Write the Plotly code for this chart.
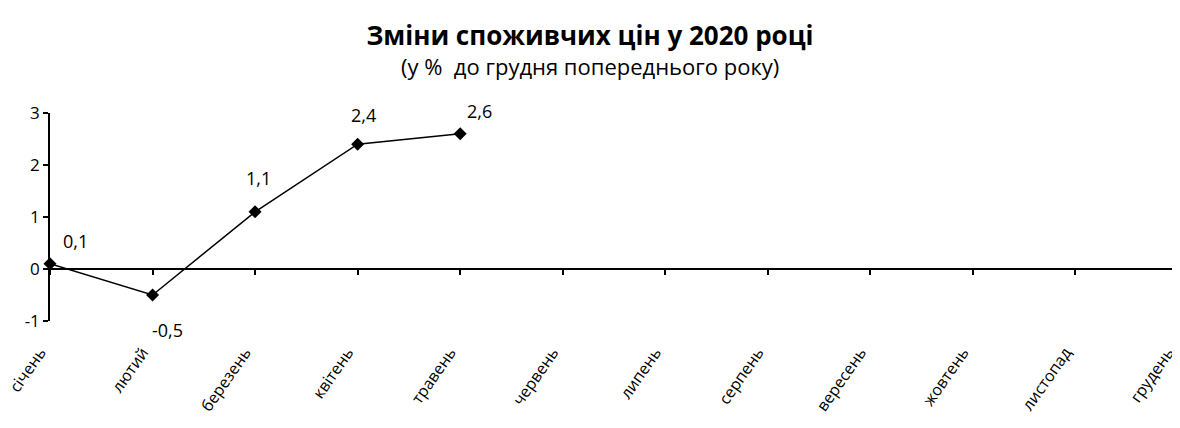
import plotly.graph_objects as go

months = ["січень", "лютий", "березень", "квітень", "травень", "червень",
          "липень", "серпень", "вересень", "жовтень", "листопад", "грудень"]
values = [0.1, -0.5, 1.1, 2.4, 2.6]
y_ticks = [-1, 0, 1, 2, 3]

label_shift = [(25, 23), (15, -35), (3, 34), (6, 29), (19, 23)]

FONT = "Open Sans"
TITLE = "Зміни споживчих цін у 2020 році"
SUBTITLE = "(у %  до грудня попереднього року)"

fig = go.Figure()
padded = values + [None] * (len(months) - len(values))
fig.add_trace(go.Scatter(
    x=months, y=padded, mode="lines+markers",
    line=dict(color="black", width=1.5),
    marker=dict(symbol="diamond", size=10, color="black"),
    hoverinfo="skip", showlegend=False, cliponaxis=False,
))
# helper trace for the zero-line axis
fig.add_trace(go.Scatter(x=months, y=[None] * len(months), xaxis="x2", yaxis="y",
                         showlegend=False, hoverinfo="skip"))

for m, v, (dx, dy) in zip(months, values, label_shift):
    fig.add_annotation(x=m, y=v, text=f"{v:.1f}".replace(".", ","), showarrow=False,
                       xshift=dx, yshift=dy, font=dict(size=18, color="black", family=FONT))

fig.add_annotation(xref="paper", yref="paper", x=(590 - 50) / 1128, y=(321 - 66) / 208,
                   xanchor="center", yanchor="middle", showarrow=False,
                   text=SUBTITLE, font=dict(size=22, color="black", family=FONT))

fig.update_layout(
    width=1172, height=420,
    margin=dict(l=42, r=2, t=105, b=107),
    paper_bgcolor="white", plot_bgcolor="white",
    font=dict(family=FONT, color="black", size=16),
    title=dict(
        text=f"<b>{TITLE}</b>",
        x=(590 - 8) / 1172, xanchor="center", xref="container",
        y=1 - 28 / 420, yanchor="middle",
        font=dict(size=26, family=FONT, color="black"),
    ),
    xaxis=dict(
        type="category", categoryorder="array", categoryarray=months,
        range=[0, 11], showline=False, showgrid=False, zeroline=False,
        ticks="", tickangle=-55, ticklabelstandoff=18, ticklabelshift=-10,
        automargin=False,
        tickfont=dict(size=16, family=FONT, color="black"),
    ),
    xaxis2=dict(
        type="category", categoryorder="array", categoryarray=months,
        range=[0, 11], overlaying="x", anchor="free", position=0.25,
        showline=True, linecolor="black", linewidth=1.5,
        ticks="outside", ticklen=5, tickcolor="black", tickwidth=1.5,
        showticklabels=False, showgrid=False, zeroline=False, automargin=False,
    ),
    yaxis=dict(
        range=[-1, 3], tickvals=y_ticks, ticktext=[str(t) for t in y_ticks],
        showline=True, linecolor="black", linewidth=1.5,
        ticks="outside", ticklen=5, tickcolor="black", tickwidth=1.5,
        showgrid=False, zeroline=False, automargin=False,
        tickfont=dict(size=17, family=FONT, color="black"),
    ),
)

fig.write_html("out.html")
